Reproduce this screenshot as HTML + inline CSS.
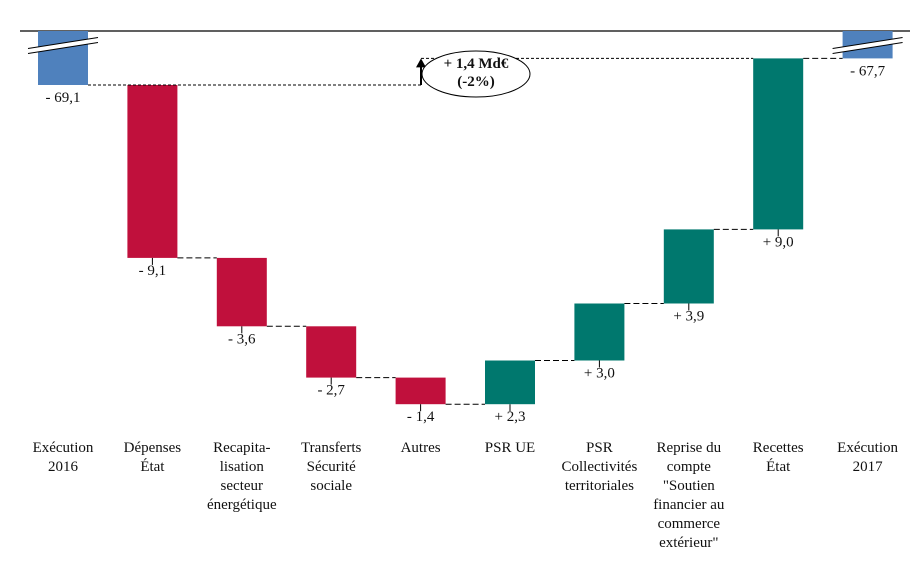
<!DOCTYPE html>
<html><head><meta charset="utf-8"><style>
body{margin:0;background:#fff;}
svg text{font-family:"Liberation Serif",serif;fill:#111;}
</style></head><body>
<svg id="c" width="918" height="558"></svg>
<script>
const categories=[["Exécution","2016"],["Dépenses","État"],["Recapita-","lisation","secteur","énergétique"],["Transferts","Sécurité","sociale"],["Autres"],["PSR UE"],["PSR","Collectivités","territoriales"],["Reprise du","compte","\"Soutien","financier au","commerce","extérieur\""],["Recettes","État"],["Exécution","2017"]];
const startValue=-69.1;
const deltas=[-9.1,-3.6,-2.7,-1.4,2.3,3.0,3.9,9.0];
const endValue=-67.7;
const valueLabels=["- 69,1","- 9,1","- 3,6","- 2,7","- 1,4","+ 2,3","+ 3,0","+ 3,9","+ 9,0","- 67,7"];
const annotationLines=["+ 1,4 Md€","(-2%)"];

const NS="http://www.w3.org/2000/svg";
const svg=document.getElementById('c');
function el(t,a,p){const e=document.createElementNS(NS,t);for(const k in a)e.setAttribute(k,a[k]);(p||svg).appendChild(e);return e;}
const y=v=>85+(startValue-v)*19;
const xc=i=>63+i*89.4;
const bw=50, axisY=31;
const line=el('line',{x1:20,y1:axisY,x2:910,y2:axisY,stroke:'#000','stroke-width':1.2});



let levels=[startValue];
let cur=startValue;
deltas.forEach(d=>{cur+=d;levels.push(cur);});
// bars
const n=categories.length;
for(let i=0;i<n;i++){
  let top,bot,col;
  if(i===0){top=axisY;bot=y(startValue);col='#4f81bd';}
  else if(i===n-1){top=axisY;bot=y(endValue);col='#4f81bd';}
  else{const a=levels[i-1],b=levels[i];top=Math.min(y(a),y(b));bot=Math.max(y(a),y(b));col=deltas[i-1]<0?'#c0103c':'#00786e';}
  const r=el('rect',{x:xc(i)-bw/2,y:top,width:bw,height:bot-top,fill:col});
  
  
  if(i===0||i===n-1){
    el('line',{x1:xc(i)-bw/2-10,y1:axisY+20,x2:xc(i)+bw/2+10,y2:axisY+9,stroke:'#fff','stroke-width':5});
    el('line',{x1:xc(i)-bw/2-10,y1:axisY+17.5,x2:xc(i)+bw/2+10,y2:axisY+6.5,stroke:'#000','stroke-width':1});
    el('line',{x1:xc(i)-bw/2-10,y1:axisY+22.5,x2:xc(i)+bw/2+10,y2:axisY+11.5,stroke:'#000','stroke-width':1});
  }
  if(i>0&&i<n-1) el('line',{x1:xc(i),y1:bot,x2:xc(i),y2:bot+7,stroke:'#000','stroke-width':1});
  const t=el('text',{x:xc(i),y:bot+17,'text-anchor':'middle','font-size':15});
  t.textContent=valueLabels[i];
  
  
  const ct=el('text',{x:xc(i),y:452,'text-anchor':'middle','font-size':15});
  
  
  categories[i].forEach((s,k)=>{const ts=el('tspan',{x:xc(i),dy:k?19:0},ct);ts.textContent=s;});
}
// connectors
for(let i=0;i<n-1;i++){
  const lv=i<levels.length?levels[i]:endValue;
  const x1=xc(i)+bw/2, x2=xc(i+1)-bw/2;
  if(i===0){
    el('line',{x1:x1,y1:y(lv),x2:421,y2:y(lv),stroke:'#000','stroke-dasharray':'3,2','stroke-width':1});
    el('line',{x1:421,y1:y(lv),x2:x2,y2:y(lv),stroke:'#000','stroke-dasharray':'3,2','stroke-width':1});
  }else if(i===n-2){
    el('line',{x1:x1,y1:y(endValue),x2:x2,y2:y(endValue),stroke:'#000','stroke-dasharray':'6,3','stroke-width':1});
  }else{
    el('line',{x1:x1,y1:y(lv),x2:x2,y2:y(lv),stroke:'#000','stroke-dasharray':'6,3','stroke-width':1});
  }
}
// annotation
el('line',{x1:421,y1:y(endValue),x2:xc(8)-bw/2,y2:y(endValue),stroke:'#000','stroke-dasharray':'3,2','stroke-width':1});
el('line',{x1:421,y1:y(startValue),x2:421,y2:y(endValue)+8,stroke:'#000','stroke-width':2});
el('polygon',{points:`416,${y(endValue)+9} 426,${y(endValue)+9} 421,${y(endValue)}`,fill:'#000'});
const ell=el('ellipse',{cx:476,cy:74,rx:54,ry:23,fill:'#fff',stroke:'#000','stroke-width':1});


const at=el('text',{x:476,y:68,'text-anchor':'middle','font-size':15,'font-weight':'bold'});


annotationLines.forEach((s,k)=>{const ts=el('tspan',{x:476,dy:k?18:0},at);ts.textContent=s;});
</script>
</body></html>
